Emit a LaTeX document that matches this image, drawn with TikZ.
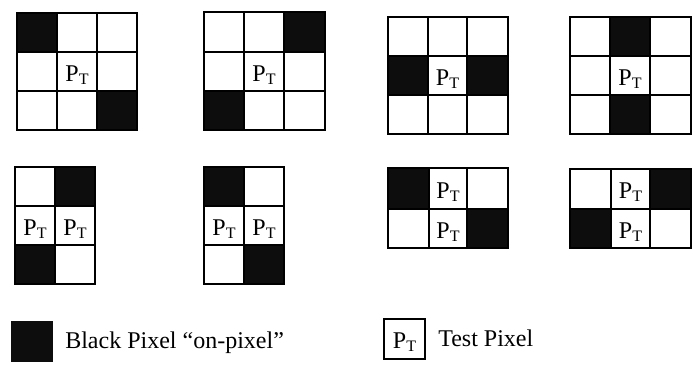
\documentclass[tikz,border=0pt]{standalone}
\usepackage{fontspec}
\setmainfont{Liberation Serif}
\definecolor{onpix}{HTML}{0D0D0D}
\tikzset{
  gridline/.style={line width=1.2pt, draw=black},
  onfill/.style={fill=onpix},
  ptlabel/.style={anchor=base, inner sep=0pt, font=\fontsize{18}{20}\selectfont},
  legendtext/.style={anchor=base west, inner sep=0pt, font=\fontsize{18}{20}\selectfont},
}
\newcommand{\PTtxt}{P\raisebox{-2.4pt}{\fontsize{12}{12}\selectfont T}}
\begin{document}
\begin{tikzpicture}[x=0.75pt,y=-0.75pt]
\useasboundingbox (0,0) rectangle (696,372);
% Grid 1
\fill[onfill] (17,13) rectangle (57,52);
\fill[onfill] (97,91) rectangle (137,130);
\draw[gridline] (17,13) rectangle (137,130);
\draw[gridline] (57,13) -- (57,130) (97,13) -- (97,130) (17,52) -- (137,52) (17,91) -- (137,91);
\node[ptlabel] (g1p) at (77,81) {\PTtxt};
% Grid 2
\fill[onfill] (284,12) rectangle (325,52);
\fill[onfill] (204,91) rectangle (244,130);
\draw[gridline] (204,12) rectangle (325,130);
\draw[gridline] (244,12) -- (244,130) (284,12) -- (284,130) (204,52) -- (325,52) (204,91) -- (325,91);
\node[ptlabel] (g2p) at (264,81) {\PTtxt};
% Grid 3
\fill[onfill] (388,56) rectangle (428,95);
\fill[onfill] (467,56) rectangle (508,95);
\draw[gridline] (388,17) rectangle (508,134);
\draw[gridline] (428,17) -- (428,134) (467,17) -- (467,134) (388,56) -- (508,56) (388,95) -- (508,95);
\node[ptlabel] (g3p) at (447.5,85) {\PTtxt};
% Grid 4
\fill[onfill] (610,17) rectangle (650,56);
\fill[onfill] (610,95) rectangle (650,134);
\draw[gridline] (570,17) rectangle (691,134);
\draw[gridline] (610,17) -- (610,134) (650,17) -- (650,134) (570,56) -- (691,56) (570,95) -- (691,95);
\node[ptlabel] (g4p) at (630,85) {\PTtxt};
% Grid 5
\fill[onfill] (55,167) rectangle (95,206);
\fill[onfill] (15,245) rectangle (55,284);
\draw[gridline] (15,167) rectangle (95,284);
\draw[gridline] (55,167) -- (55,284) (15,206) -- (95,206) (15,245) -- (95,245);
\node[ptlabel] (g5a) at (35,235) {\PTtxt};
\node[ptlabel] (g5b) at (75,235) {\PTtxt};
% Grid 6
\fill[onfill] (204,167) rectangle (244,206);
\fill[onfill] (244,245) rectangle (284,284);
\draw[gridline] (204,167) rectangle (284,284);
\draw[gridline] (244,167) -- (244,284) (204,206) -- (284,206) (204,245) -- (284,245);
\node[ptlabel] (g6a) at (224,235) {\PTtxt};
\node[ptlabel] (g6b) at (264,235) {\PTtxt};
% Grid 7
\fill[onfill] (388,168) rectangle (429,209);
\fill[onfill] (467,209) rectangle (508,248);
\draw[gridline] (388,168) rectangle (508,248);
\draw[gridline] (429,168) -- (429,248) (467,168) -- (467,248) (388,209) -- (508,209);
\node[ptlabel] (g7a) at (448,198) {\PTtxt};
\node[ptlabel] (g7b) at (448,238) {\PTtxt};
% Grid 8
\fill[onfill] (650,169) rectangle (691,209);
\fill[onfill] (570,209) rectangle (611,248);
\draw[gridline] (570,169) rectangle (691,248);
\draw[gridline] (611,169) -- (611,248) (650,169) -- (650,248) (570,209) -- (691,209);
\node[ptlabel] (g8a) at (630.5,198.5) {\PTtxt};
\node[ptlabel] (g8b) at (630.5,238) {\PTtxt};
% Legend
\fill[onfill] (11,321) rectangle (53,362);
\node[legendtext] (blk) at (65,348) {Black Pixel “on-pixel”};
\draw[line width=1pt] (384,319) rectangle (425,359);
\node[ptlabel] (lpt) at (404.5,348.5) {\PTtxt};
\node[legendtext] (tst) at (438,346) {Test Pixel};
\end{tikzpicture}
\end{document}
